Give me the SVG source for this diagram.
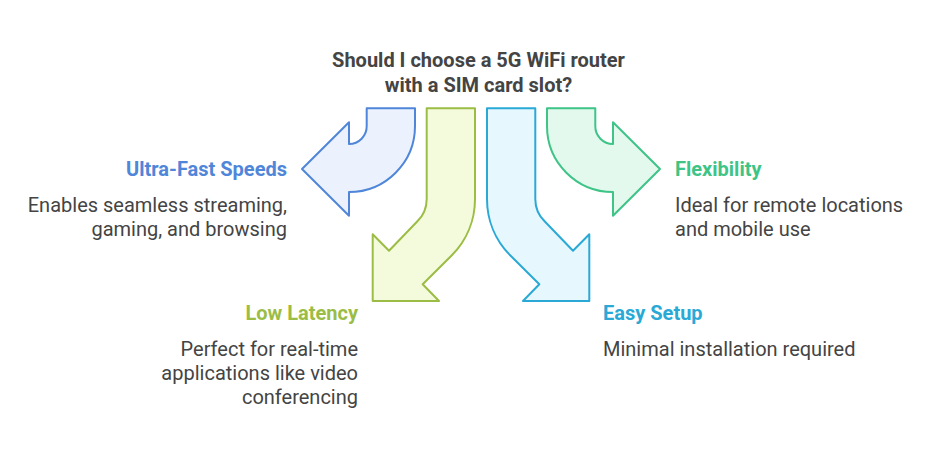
<svg xmlns="http://www.w3.org/2000/svg" width="938" height="458" viewBox="0 0 938 458">
<style>
text{font-family:Roboto,"Liberation Sans",sans-serif;}
.t{font-size:20px;font-weight:bold;fill:#444444;}
.h{font-size:20px;font-weight:bold;}
.b{font-size:20px;fill:#444444;}
.a{stroke-width:2;stroke-linejoin:round;}
</style>
<rect width="938" height="458" fill="#ffffff"/>
<g id="title">
<text class="t" x="478.5" y="67" text-anchor="middle">Should I choose a 5G WiFi router</text>
<text class="t" x="478.5" y="92" text-anchor="middle">with a SIM card slot?</text>
</g>
<g id="arrows">
<path id="arrow-speed" class="a" fill="#ebf2fd" stroke="#4f86d9" d="M366.7,108.3 L415,108.3 L415,126 A66,66 0 0 1 349,192 L349,215.7 L302,169 L349,122.3 L349,144 A17.7,17.7 0 0 0 366.7,126 Z"/>
<path id="arrow-latency" class="a" fill="#f4fbdd" stroke="#9bbd45" d="M426.7,108.3 L475,108.3 L475,198.9 A80,80 0 0 1 451.6,255.5 L422.7,284.3 L439,301 L372.7,301 L372.7,234.3 L389,250.7 L417.4,221.3 A31.7,31.7 0 0 0 426.7,198.9 Z"/>
<path id="arrow-setup" class="a" fill="#e6f7fd" stroke="#2aa9d6" d="M535.3,108.3 L487,108.3 L487,198.9 A80,80 0 0 0 510.4,255.5 L539.3,284.3 L523,301 L589.3,301 L589.3,234.3 L573,250.7 L544.6,221.3 A31.7,31.7 0 0 1 535.3,198.9 Z"/>
<path id="arrow-flex" class="a" fill="#e4f9ee" stroke="#3dc486" d="M595.3,108.3 L547,108.3 L547,126 A66,66 0 0 0 613,192 L613,215.7 L660,169 L613,122.3 L613,144 A17.7,17.7 0 0 1 595.3,126 Z"/>
</g>
<g id="speed">
<text class="h" x="287" y="176" text-anchor="end" fill="#4f86d9">Ultra-Fast Speeds</text>
<text class="b" x="287" y="212" text-anchor="end">Enables seamless streaming,</text>
<text class="b" x="287" y="236" text-anchor="end">gaming, and browsing</text>
</g>
<g id="flex">
<text class="h" x="675" y="176" fill="#3dc486">Flexibility</text>
<text class="b" x="675" y="212">Ideal for remote locations</text>
<text class="b" x="675" y="236">and mobile use</text>
</g>
<g id="latency">
<text class="h" x="358" y="320" text-anchor="end" fill="#9bbd45">Low Latency</text>
<text class="b" x="358" y="356" text-anchor="end">Perfect for real-time</text>
<text class="b" x="358" y="380" text-anchor="end">applications like video</text>
<text class="b" x="358" y="404" text-anchor="end">conferencing</text>
</g>
<g id="setup">
<text class="h" x="603" y="320" fill="#2aa9d6">Easy Setup</text>
<text class="b" x="603" y="356">Minimal installation required</text>
</g>
</svg>
